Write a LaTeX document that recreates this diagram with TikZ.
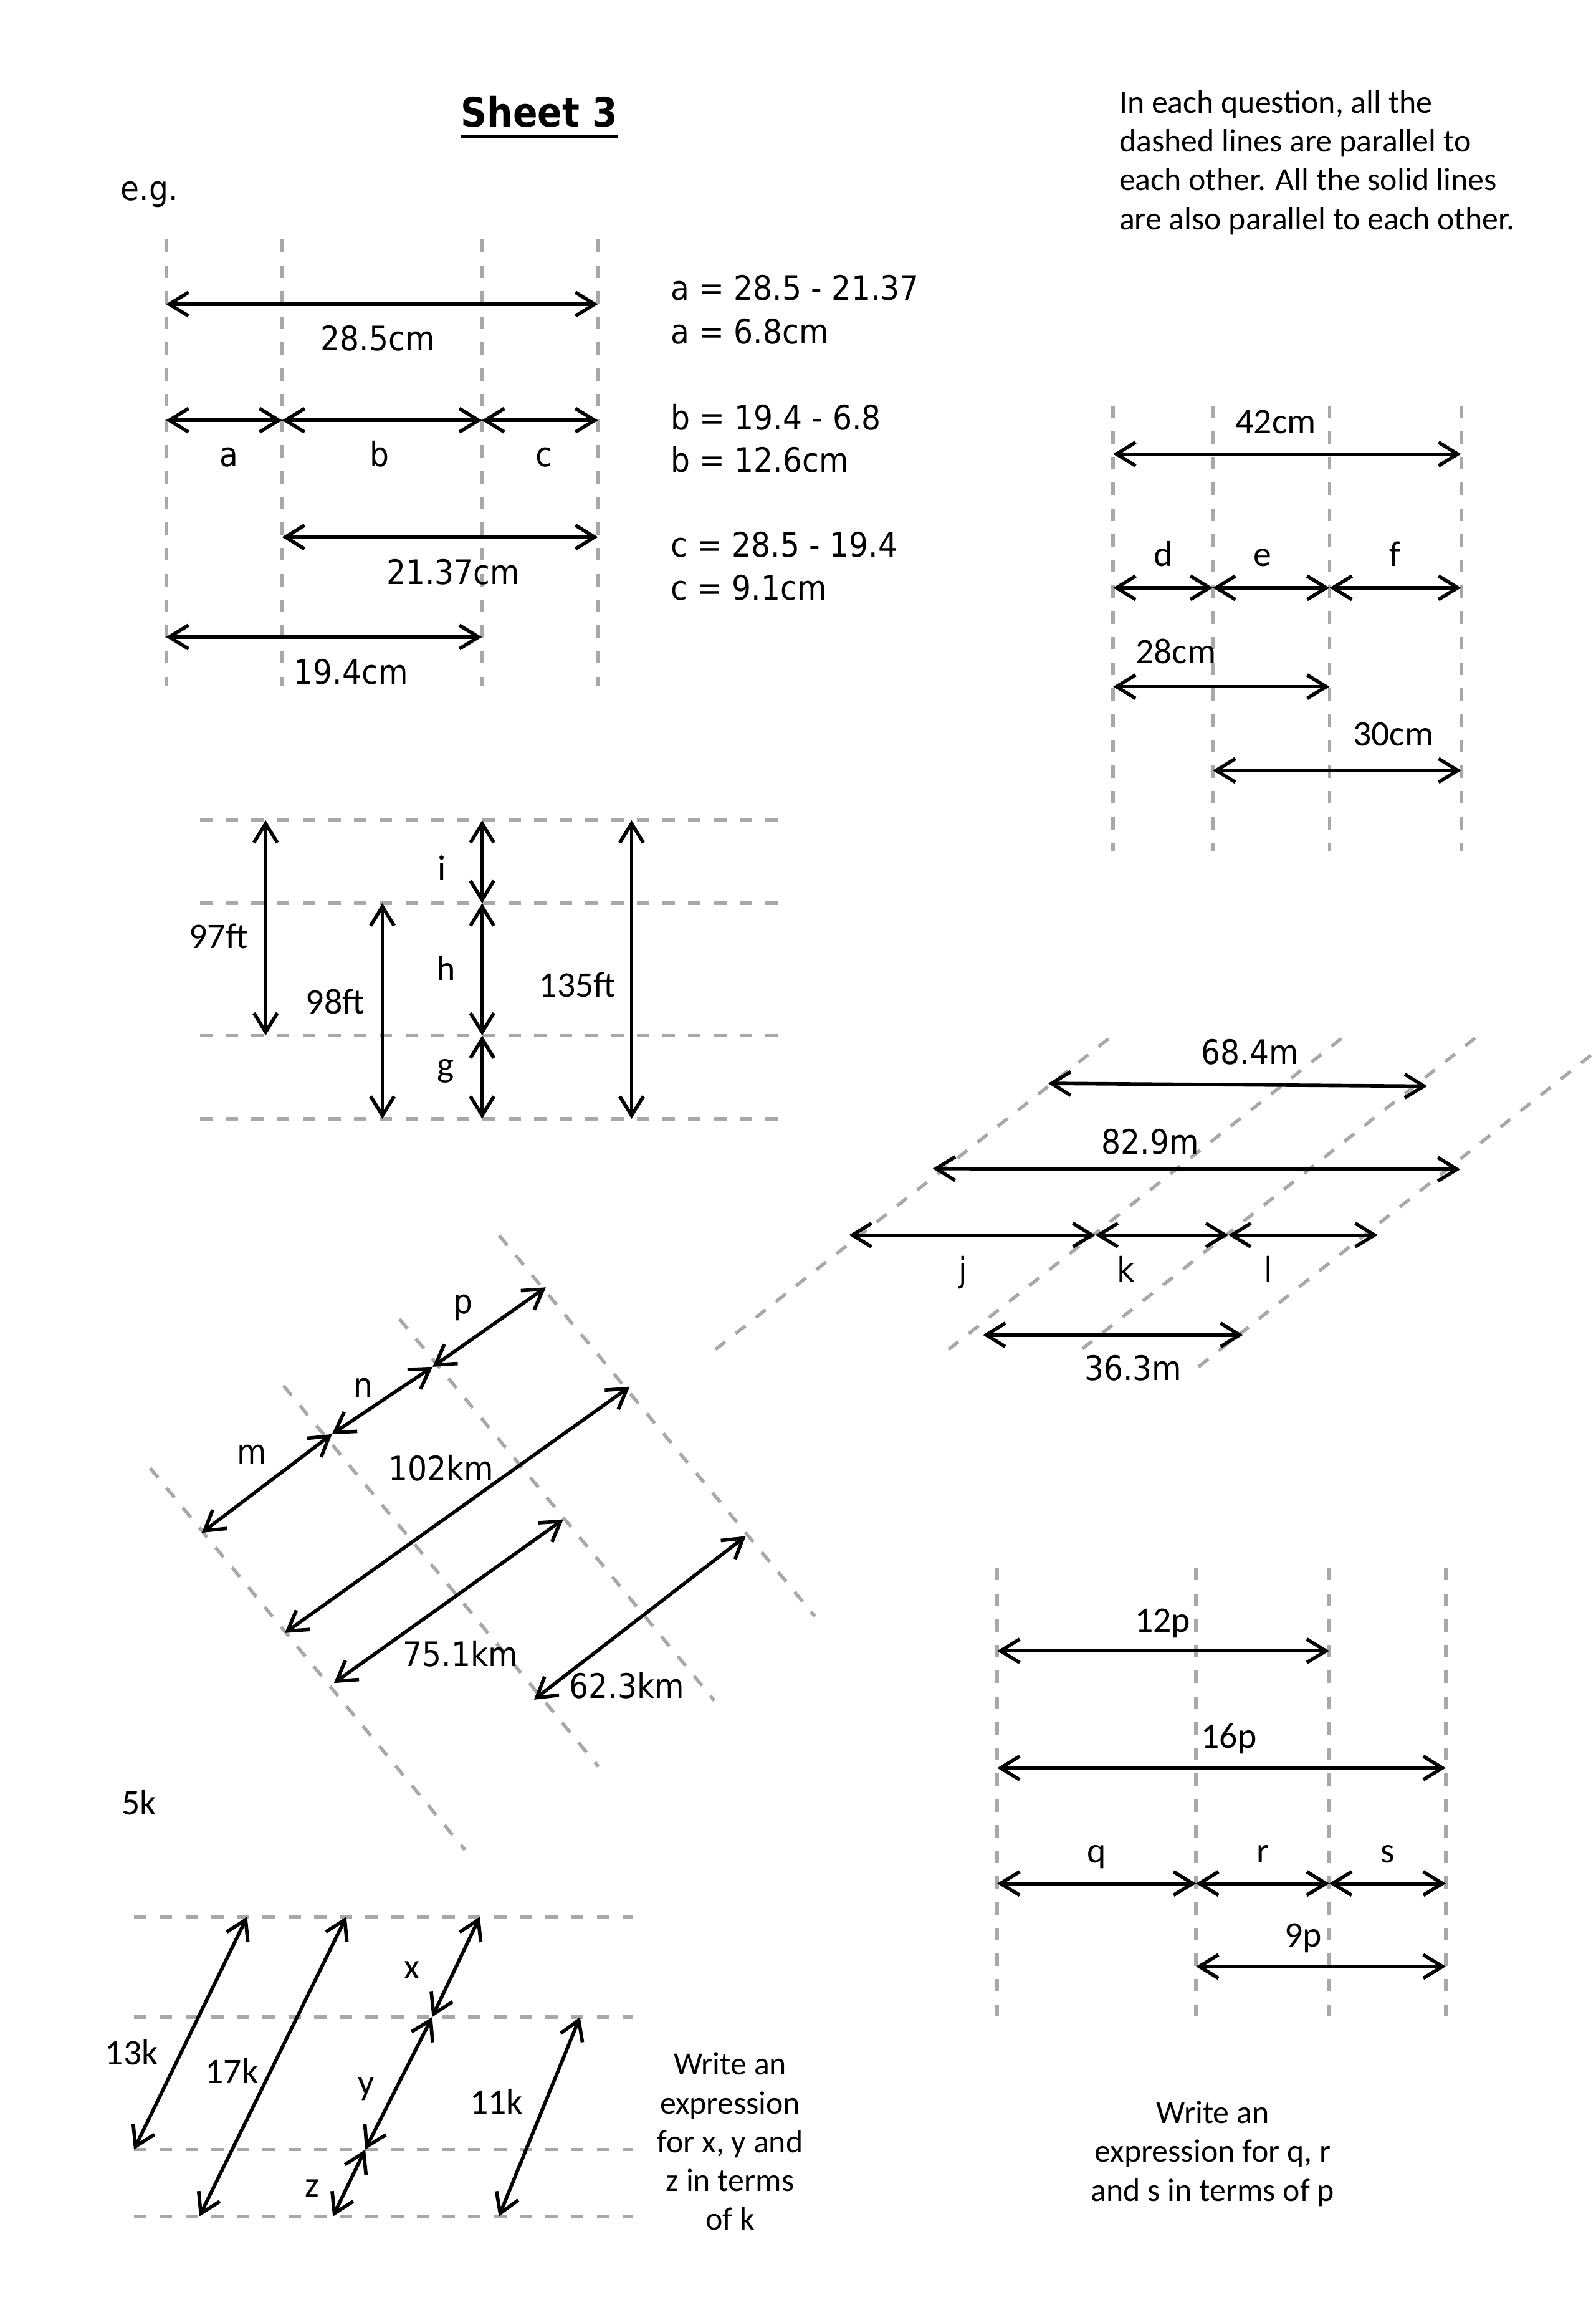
\documentclass[tikz,border=0pt]{standalone}
\usepackage{fontspec}
\setmainfont{Carlito}
\newfontfamily\tah{DejaVu Sans Condensed}
\usetikzlibrary{arrows.meta}
\begin{document}
\begin{tikzpicture}[x=1pt,y=-1pt,
  dsh/.style={draw=gray!68,line width=2.3pt,dash pattern=on 8.5pt off 9pt},
  dim/.style={draw=black,line width=2.4pt,{Straight Barb[length=13pt,width=16pt]}-{Straight Barb[length=13pt,width=16pt]}},
  tl/.style={font=\tah\fontsize{23}{27.6}\selectfont,inner sep=0pt,text depth=0pt},
  cl/.style={font=\fontsize{24.5}{29}\selectfont,inner sep=0pt,text depth=0pt},
  blk/.style={font=\fontsize{22}{26.4}\selectfont,inner sep=0pt},
  ttl/.style={font=\tah\bfseries\fontsize{27.5}{33}\selectfont,inner sep=0pt}]
\useasboundingbox (0,0) rectangle (1086,1568.7);

% ---------- title and note ----------
\node[ttl,anchor=base] (title) at (367,86.5) {Sheet 3};
\draw[line width=2.2pt] ([yshift=-6.5pt]title.base west) -- ([yshift=-6.5pt]title.base east);
\node[tl,anchor=base west] (eg) at (82,136.2) {e.g.};
\node[blk,anchor=north west,align=left] (note) at (761.7,61.5)
  {In each question, all the\\dashed lines are parallel to\\each other. All the solid lines\\are also parallel to each other.};

% ---------- e.g. section ----------
\foreach \n/\x in {1/113,2/192,3/328,4/407}{
  \coordinate (ev\n t) at (\x,163); \coordinate (ev\n b) at (\x,467);
  \draw[dsh] (ev\n t) -- (ev\n b);}
\coordinate (e1a) at (113,207);   \coordinate (e1b) at (407,207);
\coordinate (e2a) at (113,286);   \coordinate (e2b) at (192,286);
\coordinate (e2c) at (328,286);   \coordinate (e2d) at (407,286);
\coordinate (e3a) at (192,365.5); \coordinate (e3b) at (407,365.5);
\coordinate (e4a) at (113,433.5); \coordinate (e4b) at (328,433.5);
\draw[dim] (e1a) -- (e1b);
\draw[dim] (e2a) -- (e2b);
\draw[dim] (e2b) -- (e2c);
\draw[dim] (e2c) -- (e2d);
\draw[dim] (e3a) -- (e3b);
\draw[dim] (e4a) -- (e4b);
\node[tl] (l285) at (257.2,229.9) {28.5cm};
\node[tl,anchor=base] (la) at (156,317.4) {a};
\node[tl,anchor=base] (lb) at (258.3,317.4) {b};
\node[tl,anchor=base] (lc) at (370.4,317.4) {c};
\node[tl] (l2137) at (308.4,389) {21.37cm};
\node[tl] (l194) at (239,457.1) {19.4cm};
\node[tl,anchor=west] (eq1) at (456.3,195.8) {a = 28.5 - 21.37};
\node[tl,anchor=west] (eq2) at (456.3,225.6) {a = 6.8cm};
\node[tl,anchor=west] (eq3) at (456.3,283.9) {b = 19.4 - 6.8};
\node[tl,anchor=west] (eq4) at (456.3,312.8) {b = 12.6cm};
\node[tl,anchor=west] (eq5) at (456.3,370.5) {c = 28.5 - 19.4};
\node[tl,anchor=west] (eq6) at (456.3,399.8) {c = 9.1cm};

% ---------- d e f section ----------
\foreach \n/\x in {1/757.7,2/825.6,3/905,4/994.5}{
  \coordinate (dv\n t) at (\x,276); \coordinate (dv\n b) at (\x,579);
  \draw[dsh] (dv\n t) -- (dv\n b);}
\coordinate (d1a) at (757.7,309);   \coordinate (d1b) at (994.5,309);
\coordinate (d2a) at (757.7,400);   \coordinate (d2b) at (825.6,400);
\coordinate (d2c) at (905,400);     \coordinate (d2d) at (994.5,400);
\coordinate (d3a) at (757.7,467.3); \coordinate (d3b) at (905,467.3);
\coordinate (d4a) at (825.6,524.3); \coordinate (d4b) at (994.5,524.3);
\draw[dim] (d1a) -- (d1b);
\draw[dim] (d2a) -- (d2b);
\draw[dim] (d2b) -- (d2c);
\draw[dim] (d2c) -- (d2d);
\draw[dim] (d3a) -- (d3b);
\draw[dim] (d4a) -- (d4b);
\node[cl] (l42) at (868.4,286.9) {42cm};
\node[cl,anchor=base] (ld) at (791.7,385.4) {d};
\node[cl,anchor=base] (le) at (859.2,385.4) {e};
\node[cl,anchor=base] (lf) at (949.5,385.4) {f};
\node[cl] (l28) at (800.4,443.4) {28cm};
\node[cl] (l30) at (948.4,499.6) {30cm};

% ---------- g h i section ----------
\foreach \n/\y in {1/558.2,2/614.7,3/704.7,4/761.4}{
  \coordinate (gh\n l) at (136,\y); \coordinate (gh\n r) at (532,\y);
  \draw[dsh] (gh\n l) -- (gh\n r);}
\coordinate (g1a) at (180.8,558.2); \coordinate (g1b) at (180.8,704.7);
\coordinate (g2a) at (260.3,614.7); \coordinate (g2b) at (260.3,761.4);
\coordinate (g3a) at (328.2,558.2); \coordinate (g3b) at (328.2,614.7);
\coordinate (g3c) at (328.2,704.7); \coordinate (g3d) at (328.2,761.4);
\coordinate (g4a) at (429.9,558.2); \coordinate (g4b) at (429.9,761.4);
\draw[dim] (g1a) -- (g1b);
\draw[dim] (g2a) -- (g2b);
\draw[dim] (g3a) -- (g3b);
\draw[dim] (g3b) -- (g3c);
\draw[dim] (g3c) -- (g3d);
\draw[dim] (g4a) -- (g4b);
\node[cl] (l97) at (148.7,637) {97ft};
\node[cl] (l98) at (228.2,681.7) {98ft};
\node[cl] (l135) at (393,669.9) {135ft};
\node[cl,anchor=base] (li) at (300.6,599.3) {i};
\node[cl,anchor=base] (lh) at (303.5,667.6) {h};
\node[cl,anchor=base] (lg) at (303.5,733) {g};

% ---------- j k l section ----------
\coordinate (sA1) at (487,918.4);   \coordinate (sA2) at (757.2,704.8);
\coordinate (sB1) at (645.7,918.4); \coordinate (sB2) at (915.5,704.8);
\coordinate (sC1) at (736.7,918);   \coordinate (sC2) at (1006.2,704.8);
\coordinate (sD1) at (815.8,930.2); \coordinate (sD2) at (1086,715.7);
\draw[dsh] (sA1) -- (sA2);
\draw[dsh] (sB1) -- (sB2);
\draw[dsh] (sC1) -- (sC2);
\draw[dsh] (sD1) -- (sD2);
\coordinate (j1a) at (713.5,737.3); \coordinate (j1b) at (971.5,739.2);
\coordinate (j2a) at (634.9,795.3); \coordinate (j2b) at (994,795.8);
\coordinate (j3a) at (578,840.5);   \coordinate (j3b) at (745.6,840.5);
\coordinate (j3c) at (836.1,840.5); \coordinate (j3d) at (937.8,840.5);
\coordinate (j4a) at (669,908.5);   \coordinate (j4b) at (846.1,908.5);
\draw[dim] (j1a) -- (j1b);
\draw[dim] (j2a) -- (j2b);
\draw[dim] (j3a) -- (j3b);
\draw[dim] (j3b) -- (j3c);
\draw[dim] (j3c) -- (j3d);
\draw[dim] (j4a) -- (j4b);
\node[tl] (l684) at (850.8,715.7) {68.4m};
\node[tl] (l829) at (783,776.9) {82.9m};
\node[tl,anchor=base] (lj) at (655.4,872.4) {j};
\node[tl,anchor=base] (lk) at (766.4,872.4) {k};
\node[tl,anchor=base] (ll) at (863.5,872.4) {l};
\node[tl] (l363) at (771.4,931) {36.3m};

% ---------- m n p section ----------
\coordinate (mL1a) at (102.2,999.1); \coordinate (mL1b) at (316.5,1259);
\coordinate (mL2a) at (193,943.1);   \coordinate (mL2b) at (407.3,1202.2);
\coordinate (mL3a) at (271.9,897.6); \coordinate (mL3b) at (486.2,1157.3);
\coordinate (mL4a) at (339.8,840.8); \coordinate (mL4b) at (554.6,1099.9);
\draw[dsh] (mL1a) -- (mL1b);
\draw[dsh] (mL2a) -- (mL2b);
\draw[dsh] (mL3a) -- (mL3b);
\draw[dsh] (mL4a) -- (mL4b);
\coordinate (m0) at (137.4,1043.1);
\coordinate (m1) at (226,976);
\coordinate (m2) at (294.5,930.2);
\coordinate (m3) at (371.6,876.1);
\coordinate (k1a) at (193.9,1111.3); \coordinate (k1b) at (428.7,943.7);
\coordinate (k2a) at (227.3,1145.4); \coordinate (k2b) at (383.5,1034);
\coordinate (k3a) at (363.5,1156.7); \coordinate (k3b) at (507.6,1045.4);
\draw[dim] (m0) -- (m1);
\draw[dim] (m1) -- (m2);
\draw[dim] (m2) -- (m3);
\draw[dim] (k1a) -- (k1b);
\draw[dim] (k2a) -- (k2b);
\draw[dim] (k3a) -- (k3b);
\node[tl,anchor=base] (lm) at (171.3,996.2) {m};
\node[tl,anchor=base] (ln) at (247.2,950.8) {n};
\node[tl,anchor=base] (lp) at (315,894) {p};
\node[tl] (l102) at (300.1,999.1) {102km};
\node[tl] (l751) at (313.5,1125.5) {75.1km};
\node[tl] (l623) at (426.6,1146.8) {62.3km};

% ---------- x y z section ----------
\node[cl] (l5k) at (94.5,1226.6) {5k};
\foreach \n/\y in {1/1304.5,2/1372.7,3/1462.9,4/1508.4}{
  \coordinate (xh\n l) at (91.2,\y); \coordinate (xh\n r) at (430.5,\y);
  \draw[dsh] (xh\n l) -- (xh\n r);}
\coordinate (x1a) at (168.2,1304.5); \coordinate (x1b) at (91.2,1462.9);
\coordinate (x2a) at (235.7,1304.5); \coordinate (x2b) at (135.7,1508.4);
\coordinate (x3a) at (326.6,1304.5); \coordinate (x3b) at (294.2,1372.7);
\coordinate (x3c) at (248.6,1462.9); \coordinate (x3d) at (226.6,1508.4);
\coordinate (x4a) at (394.8,1372.7); \coordinate (x4b) at (339.6,1508.4);
\draw[dim] (x1a) -- (x1b);
\draw[dim] (x2a) -- (x2b);
\draw[dim] (x3a) -- (x3b);
\draw[dim] (x3b) -- (x3c);
\draw[dim] (x3c) -- (x3d);
\draw[dim] (x4a) -- (x4b);
\node[cl] (l13k) at (89.6,1396.5) {13k};
\node[cl] (l17k) at (157.8,1409.5) {17k};
\node[cl,anchor=base] (lx) at (280.5,1346.7) {x};
\node[cl,anchor=base] (ly) at (249.4,1425.7) {y};
\node[cl,anchor=base] (lz) at (212.3,1495) {z};
\node[cl] (l11k) at (338,1430) {11k};
\node[blk,anchor=north,align=center] (wx) at (497,1396.8)
  {Write an\\expression\\for x, y and\\z in terms\\of k};

% ---------- q r s section ----------
\foreach \n/\x in {1/678.8,2/814.1,3/904.8,4/984.1}{
  \coordinate (qv\n t) at (\x,1067); \coordinate (qv\n b) at (\x,1372);
  \draw[dsh] (qv\n t) -- (qv\n b);}
\coordinate (q1a) at (678.8,1123.5); \coordinate (q1b) at (904.8,1123.5);
\coordinate (q2a) at (678.8,1203.2); \coordinate (q2b) at (984.1,1203.2);
\coordinate (q3a) at (678.8,1281.8); \coordinate (q3b) at (814.1,1281.8);
\coordinate (q3c) at (904.8,1281.8); \coordinate (q3d) at (984.1,1281.8);
\coordinate (q4a) at (814.1,1338.3); \coordinate (q4b) at (984.1,1338.3);
\draw[dim] (q1a) -- (q1b);
\draw[dim] (q2a) -- (q2b);
\draw[dim] (q3a) -- (q3b);
\draw[dim] (q3b) -- (q3c);
\draw[dim] (q3c) -- (q3d);
\draw[dim] (q4a) -- (q4b);
\node[cl] (l12p) at (791.4,1102.6) {12p};
\node[cl] (l16p) at (836.5,1181.5) {16p};
\node[cl,anchor=base] (lq) at (746.3,1267.8) {q};
\node[cl,anchor=base] (lr) at (859.7,1267.8) {r};
\node[cl,anchor=base] (ls) at (944.4,1267.8) {s};
\node[cl] (l9p) at (887,1316.9) {9p};
\node[blk,anchor=north,align=center] (wq) at (825.5,1429.8)
  {Write an\\expression for q, r\\and s in terms of p};
\end{tikzpicture}
\end{document}
